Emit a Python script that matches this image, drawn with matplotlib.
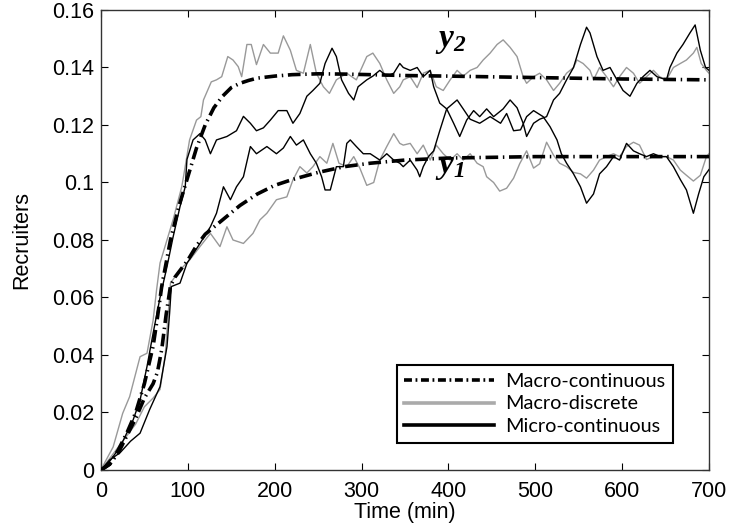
import numpy as np
import matplotlib
matplotlib.use("Agg")
import matplotlib.pyplot as plt
from matplotlib.lines import Line2D

# ---------------- data ----------------
macro_t = [0, 10, 20, 30, 40, 50, 60, 65, 70, 75, 80, 85, 90, 100, 110, 120, 130, 140,
           150, 160, 170, 180, 200, 220, 250, 280, 310, 350, 400, 500, 600, 700]
macro_y2 = [0, 0.002, 0.007, 0.013, 0.020, 0.030, 0.043, 0.053, 0.064, 0.072, 0.080,
            0.086, 0.092, 0.102, 0.112, 0.120, 0.126, 0.130, 0.133, 0.1345, 0.1355,
            0.1363, 0.137, 0.1375, 0.1378, 0.1377, 0.1375, 0.1372, 0.137, 0.1365,
            0.136, 0.1357]
macro_y1 = [0, 0.002, 0.006, 0.012, 0.018, 0.025, 0.030, 0.034, 0.042, 0.054, 0.064,
            0.067, 0.069, 0.073, 0.078, 0.082, 0.0845, 0.087, 0.0895, 0.092, 0.094,
            0.096, 0.099, 0.101, 0.1035, 0.1055, 0.1067, 0.1078, 0.1085, 0.109,
            0.109, 0.109]

discrete_y2_t = [0, 6, 14, 25, 33, 45, 53, 60, 64, 68, 76, 83, 93, 95, 102, 110, 115,
                 118, 127, 133, 139, 146, 152, 158, 162, 168, 173, 179, 187, 195, 204,
                 210, 218, 225, 233, 241, 248, 256, 263, 271, 283, 294, 306, 313, 321,
                 329, 337, 344, 348, 356, 364, 371, 379, 386, 394, 402, 410, 417, 425,
                 433, 440, 448, 456, 463, 471, 479, 486, 490, 498, 505, 513, 521, 528,
                 536, 544, 548, 555, 563, 567, 574, 582, 590, 597, 605, 613, 620, 628,
                 636, 643, 651, 659, 667, 674, 682, 686, 691, 697, 700]
discrete_y2 = [0, 0.0035, 0.008, 0.0197, 0.0255, 0.0394, 0.0406, 0.052, 0.0626, 0.072,
               0.080, 0.087, 0.0985, 0.102, 0.1148, 0.1217, 0.1229, 0.1287, 0.135,
               0.1357, 0.1368, 0.1438, 0.1426, 0.1403, 0.1368, 0.148, 0.148, 0.141,
               0.148, 0.145, 0.145, 0.151, 0.146, 0.139, 0.138, 0.148, 0.138, 0.1333,
               0.131, 0.1357, 0.138, 0.1357, 0.1438, 0.145, 0.1414, 0.1357, 0.131,
               0.1333, 0.1357, 0.1368, 0.133, 0.138, 0.139, 0.1333, 0.132, 0.1357,
               0.139, 0.137, 0.139, 0.140, 0.1426, 0.145, 0.148, 0.1496, 0.147, 0.1438,
               0.1368, 0.1345, 0.1368, 0.138, 0.1357, 0.132, 0.1345, 0.138, 0.140,
               0.1426, 0.1414, 0.139, 0.1357, 0.140, 0.1368, 0.1333, 0.1368, 0.140,
               0.138, 0.1345, 0.1368, 0.139, 0.1368, 0.1357, 0.140, 0.1414, 0.1426,
               0.145, 0.147, 0.1414, 0.139, 0.138]

micro_y2_t = [0, 10, 22, 37, 45, 53, 60, 68, 76, 83, 91, 97, 99, 106, 114, 120, 126, 133,
              145, 156, 164, 172, 179, 187, 195, 204, 214, 221, 229, 237, 244, 252, 258,
              266, 271, 277, 285, 291, 296, 306, 313, 321, 329, 337, 344, 348, 356, 364,
              371, 379, 383, 390, 398, 406, 413, 421, 429, 436, 444, 452, 463, 471, 479,
              486, 490, 498, 505, 513, 521, 528, 536, 544, 552, 559, 563, 571, 578, 586,
              594, 601, 609, 617, 624, 632, 640, 651, 655, 663, 670, 678, 684, 690, 696,
              700]
micro_y2 = [0, 0.003, 0.008, 0.0174, 0.0243, 0.036, 0.0475, 0.060, 0.0707, 0.081,
            0.0916, 0.0985, 0.108, 0.1148, 0.117, 0.1148, 0.110, 0.1148, 0.116, 0.118,
            0.123, 0.1206, 0.118, 0.119, 0.1217, 0.125, 0.125, 0.1206, 0.124, 0.130,
            0.132, 0.1345, 0.1414, 0.1467, 0.1438, 0.1357, 0.131, 0.1287, 0.1333,
            0.1357, 0.137, 0.139, 0.137, 0.138, 0.1414, 0.140, 0.139, 0.140, 0.1368,
            0.139, 0.1333, 0.1276, 0.1256, 0.1206, 0.116, 0.1217, 0.125, 0.1229,
            0.1256, 0.1229, 0.1256, 0.1287, 0.126, 0.1206, 0.116, 0.1206, 0.122,
            0.1229, 0.1287, 0.131, 0.1357, 0.140, 0.148, 0.154, 0.152, 0.1438, 0.139,
            0.140, 0.1357, 0.132, 0.130, 0.1345, 0.1368, 0.139, 0.1368, 0.1357, 0.140,
            0.145, 0.148, 0.152, 0.1548, 0.146, 0.140, 0.139]

discrete_y1_t = [0, 10, 20, 30, 40, 50, 60, 68, 74, 80, 91, 102, 114, 126, 137, 145, 152,
                 164, 175, 183, 191, 202, 214, 221, 229, 237, 244, 252, 260, 267, 274,
                 283, 291, 298, 306, 314, 321, 329, 337, 344, 348, 356, 364, 371, 379,
                 386, 394, 402, 410, 417, 425, 433, 440, 444, 452, 459, 467, 475, 482,
                 490, 498, 505, 513, 521, 528, 536, 544, 552, 559, 567, 574, 582, 590,
                 597, 605, 613, 620, 628, 636, 644, 651, 659, 667, 674, 682, 690, 697,
                 700]
discrete_y1 = [0, 0.004, 0.008, 0.012, 0.016, 0.022, 0.025, 0.028, 0.040, 0.065, 0.0696,
               0.073, 0.0777, 0.0823, 0.0777, 0.0846, 0.080, 0.0788, 0.0823, 0.087,
               0.0893, 0.094, 0.095, 0.1009, 0.1055, 0.1033, 0.1055, 0.109, 0.1067,
               0.1136, 0.1067, 0.1055, 0.109, 0.1050, 0.0990, 0.1000, 0.1078, 0.1125,
               0.117, 0.1136, 0.113, 0.1136, 0.110, 0.113, 0.1078, 0.113, 0.110, 0.1078,
               0.110, 0.1078, 0.110, 0.1067, 0.1055, 0.102, 0.1000, 0.097, 0.098,
               0.1015, 0.1065, 0.111, 0.105, 0.1065, 0.114, 0.1095, 0.1067, 0.1055,
               0.1035, 0.103, 0.1015, 0.1043, 0.1078, 0.109, 0.110, 0.109, 0.1125,
               0.114, 0.113, 0.108, 0.109, 0.109, 0.109, 0.1078, 0.1043, 0.1025, 0.1005,
               0.1025, 0.109, 0.110]

micro_y1_t = [0, 10, 22, 34, 45, 56, 68, 76, 79, 81, 91, 99, 114, 126, 133, 141, 149,
              156, 164, 172, 179, 191, 202, 210, 218, 225, 233, 241, 248, 254, 258, 264,
              271, 279, 283, 287, 294, 302, 310, 321, 329, 337, 344, 348, 356, 364, 367,
              371, 377, 383, 390, 398, 410, 417, 425, 436, 448, 460, 467, 475, 483, 490,
              498, 509, 517, 525, 530, 536, 544, 552, 559, 567, 574, 582, 590, 597, 605,
              613, 620, 628, 636, 644, 651, 659, 667, 674, 682, 688, 694, 700]
micro_y1 = [0, 0.0035, 0.006, 0.010, 0.0128, 0.021, 0.029, 0.0429, 0.0545, 0.0638,
            0.065, 0.0719, 0.0788, 0.0846, 0.0893, 0.0985, 0.094, 0.0985, 0.102, 0.1125,
            0.110, 0.1125, 0.110, 0.112, 0.116, 0.113, 0.1148, 0.110, 0.1067, 0.102,
            0.0974, 0.0974, 0.1055, 0.1055, 0.1136, 0.1148, 0.1125, 0.110, 0.110,
            0.1078, 0.110, 0.1078, 0.1067, 0.1055, 0.1078, 0.1043, 0.102, 0.1055, 0.109,
            0.111, 0.118, 0.1256, 0.1287, 0.1256, 0.122, 0.1206, 0.1229, 0.1206, 0.124,
            0.118, 0.1183, 0.1229, 0.125, 0.1229, 0.1194, 0.1148, 0.110, 0.1067, 0.103,
            0.0985, 0.0928, 0.096, 0.103, 0.1055, 0.109, 0.1078, 0.1136, 0.111, 0.110,
            0.109, 0.110, 0.109, 0.109, 0.1055, 0.101, 0.0974, 0.0893, 0.096, 0.102,
            0.1045]

x_ticks = [0, 100, 200, 300, 400, 500, 600, 700]
y_ticks = [0, 0.02, 0.04, 0.06, 0.08, 0.1, 0.12, 0.14, 0.16]
y_tick_labels = ["0", "0.02", "0.04", "0.06", "0.08", "0.1", "0.12", "0.14", "0.16"]
legend_labels = ["Macro-continuous", "Macro-discrete", "Micro-continuous"]

# ---------------- plot ----------------
plt.rcParams['font.family'] = ['Liberation Sans', 'DejaVu Sans']
plt.rcParams['mathtext.fontset'] = 'custom'
plt.rcParams['mathtext.it'] = 'Liberation Serif:italic:bold'
plt.rcParams['mathtext.rm'] = 'Liberation Serif:italic:bold'

fig = plt.figure(figsize=(7.29, 5.31), dpi=100)
ax = fig.add_axes([0.1385, 0.1149, 0.8341, 0.8663])

gray = '#999999'
ax.plot(discrete_y2_t, discrete_y2, color=gray, lw=1.0, zorder=2)
ax.plot(discrete_y1_t, discrete_y1, color=gray, lw=1.0, zorder=2)
ax.plot(micro_y2_t, micro_y2, color='black', lw=1.0, zorder=3)
ax.plot(micro_y1_t, micro_y1, color='black', lw=1.0, zorder=3)
dd = (0, (3.5, 1.3, 0.4, 1.3))
ax.plot(macro_t, macro_y2, color='black', lw=2.6, ls=dd, zorder=4)
ax.plot(macro_t, macro_y1, color='black', lw=2.6, ls=dd, zorder=4)

ax.set_xlim(0, 700)
ax.set_ylim(0, 0.16)
ax.set_xticks(x_ticks)
ax.set_yticks(y_ticks)
ax.set_yticklabels(y_tick_labels)
ax.tick_params(direction='in', length=5, width=0.8, top=True, right=True,
               labelsize=15.5)
ax.tick_params(axis='x', pad=8)
ax.tick_params(axis='y', pad=5)
for s in ax.spines.values():
    s.set_linewidth(1.0)
    s.set_color('#333333')
ax.set_xlabel('Time (min)', fontsize=15.5, labelpad=0)
ax.set_ylabel('Recruiters', fontsize=15.5, labelpad=14)

ax.text(402, 0.1495, r'$y_2$', fontsize=24, ha='center', va='center')
ax.text(402, 0.1055, r'$y_1$', fontsize=24, ha='center', va='center')

handles = [Line2D([], [], color='black', lw=2.6, ls=(0, (2.2, 1.0, 0.5, 1.0))),
           Line2D([], [], color='#aaaaaa', lw=2.6),
           Line2D([], [], color='black', lw=2.6)]
leg = ax.legend(handles, legend_labels, loc='lower right',
                bbox_to_anchor=(0.941, 0.0587),
                prop={'family': 'Lato', 'size': 14.3},
                handlelength=4.5, handletextpad=0.6, labelspacing=0.3,
                borderpad=0.38, borderaxespad=0, fancybox=False, framealpha=1,
                edgecolor='black')
leg.get_frame().set_linewidth(1.5)

fig.savefig('out.png', dpi=100)
